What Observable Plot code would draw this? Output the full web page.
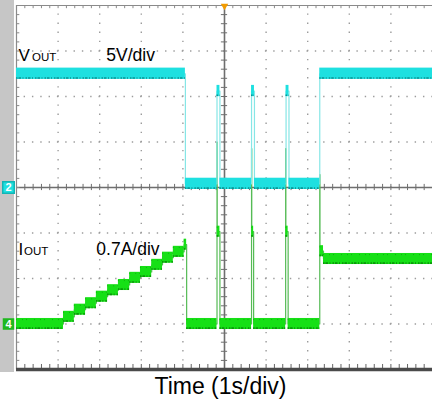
<!DOCTYPE html>
<html><head><meta charset="utf-8">
<script src="https://cdn.jsdelivr.net/npm/d3@7"></script>
<script src="https://cdn.jsdelivr.net/npm/@observablehq/plot@0.6"></script>
<style>
html,body{margin:0;padding:0;background:#fff;}
#chart svg{display:block;}
</style></head><body><div id="chart"></div>
<script>
// ---- data (time in s, 1 s/div) ----
// VOUT trace, held levels (step-after): volts, 5 V/div
const vTime = [0, 4.06, 4.82, 4.89, 5.65, 5.72, 6.48, 6.55, 7.29, 10];
const vVolt = [12.5, 0.4, 10.6, 0.4, 10.6, 0.4, 10.6, 0.4, 12.5, 12.5];
// IOUT trace, held levels (step-after): amps, 0.7 A/div
const iTime = [0, 1.13, 1.39, 1.66, 1.92, 2.19, 2.45, 2.72, 2.98, 3.25, 3.51, 3.77, 4.03, 4.09,
               4.82, 4.825, 4.89, 5.65, 5.655, 5.70, 6.47, 6.475, 6.53, 7.29, 7.295, 7.38, 10];
const iAmp  = [0, 0.11, 0.22, 0.32, 0.42, 0.52, 0.60, 0.71, 0.80, 0.91, 1.02, 1.11, 1.22, 0,
               2.8, 1.42, 0, 2.7, 1.42, 0, 2.7, 1.42, 0, 2.3, 1.12, 1.0, 1.0];
// noise envelope half-widths
const vNoise = 0.62;   // V
const iNoise = 0.085;  // A
// channel scaling
const vPerDiv = 5, aPerDiv = 0.7, iOffsetDiv = -3;
const vLabel = ["V", "OUT", "5V/div"];
const iLabel = ["I", "OUT", "0.7A/div"];
const xTitle = "Time (1s/div)";

// ---- derived ----
const FONT = "'Liberation Sans', Arial, Helvetica, sans-serif";
const vDiv = v => v / vPerDiv;
const iDiv = a => iOffsetDiv + a / aPerDiv;
const vRows = vTime.map((t, i) => ({t, y: vVolt[i]}));
const iRows = iTime.map((t, i) => ({t, y: iAmp[i]}));
const segs = (T, Y) => T.slice(0, -1).map((t, i) => ({t1: t, t2: T[i + 1], y: Y[i]}))
  .filter(s => s.t2 - s.t1 > 0.03);
const vSegs = segs(vTime, vVolt);
const iSegs = segs(iTime, iAmp);
const gridX = d3.range(1, 10).filter(d => d !== 5);
const gridY = d3.range(-3, 4).filter(d => d !== 0);
const fineX = d3.range(0, 51).map(k => k / 5);
const fineY = d3.range(-20, 21).map(k => k / 5);

const W = 432, H = 400, ML = 16, MR = 0, MT = 5, MB = 31;
const dotPX = (H - MT - MB) / 40, dotPY = (W - ML - MR) / 50;

const CYAN = "#1ee0e0", CYAN_D = "#0a9494", CYAN_L = "#86e6e6";
const GREEN = "#16e016", GREEN_D = "#0a960a", GREEN_L = "#55bb55";

const chart = Plot.plot({
  width: W, height: H,
  marginLeft: ML, marginRight: MR, marginTop: MT, marginBottom: MB,
  x: {domain: [0, 10], axis: null},
  y: {domain: [-4, 4], axis: null},
  style: {fontFamily: FONT, background: "white", overflow: "visible"},
  marks: [
    // dotted graticule
    Plot.ruleX(gridX, {y1: -4, y2: 4, stroke: "#9c9c9c", strokeWidth: 1.4,
      strokeDasharray: `1.4,${dotPX - 1.4}`, strokeDashoffset: 0.7}),
    Plot.ruleY(gridY, {x1: 0, x2: 10, stroke: "#9c9c9c", strokeWidth: 1.4,
      strokeDasharray: `1.4,${dotPY - 1.4}`, strokeDashoffset: 0.7}),
    // centre axes with minor ticks
    Plot.ruleX([5], {y1: -4, y2: 4, stroke: "#6e6e6e", strokeWidth: 1.6}),
    Plot.ruleY([0], {x1: 0, x2: 10, stroke: "#6e6e6e", strokeWidth: 1.6}),
    Plot.ruleY(fineY, {x1: 5 - 0.075, x2: 5 + 0.075, stroke: "#6e6e6e"}),
    Plot.ruleX(fineX, {y1: -0.068, y2: 0.068, stroke: "#6e6e6e"}),
    // border ticks
    Plot.ruleX(fineX, {y1: 4, y2: 3.93, stroke: "#8a8a8a"}),
    Plot.ruleX(fineX, {y1: -4, y2: -3.89, stroke: "#666"}),
    Plot.ruleY(fineY, {x1: 0, x2: 0.08, stroke: "#8a8a8a"}),
    // frame
    Plot.ruleY([4], {x1: 0, x2: 10, stroke: "#8a8a8a", strokeWidth: 1.2}),
    Plot.ruleX([0], {y1: -4, y2: 4, stroke: "#8a8a8a", strokeWidth: 1.2}),
    Plot.ruleY([-4], {x1: 0, x2: 10, stroke: "#4a4a4a", strokeWidth: 3.5}),

    // IOUT trace
    Plot.line(iRows, {x: "t", y: d => iDiv(d.y), curve: "step-after", stroke: GREEN_L, strokeWidth: 1.2}),
    Plot.rect(iSegs, {x1: "t1", x2: "t2", y1: d => iDiv(d.y - iNoise), y2: d => iDiv(d.y + iNoise), fill: GREEN}),
    Plot.ruleY(iSegs, {x1: "t1", x2: "t2", y: d => iDiv(d.y - iNoise * 0.75), stroke: GREEN_D,
      strokeWidth: 1.6, strokeDasharray: "1.5,1,2.5,1.5,1,2"}),
    Plot.ruleY(iSegs, {x1: "t1", x2: "t2", y: d => iDiv(d.y + iNoise * 0.8), stroke: GREEN_D,
      strokeWidth: 1, strokeOpacity: 0.6, strokeDasharray: "1,5,1,3,1,7"}),

    // VOUT trace
    Plot.line(vRows, {x: "t", y: d => vDiv(d.y), curve: "step-after", stroke: CYAN_L, strokeWidth: 1.2}),
    Plot.rect(vSegs, {x1: "t1", x2: "t2", y1: d => vDiv(d.y - vNoise), y2: d => vDiv(d.y + vNoise), fill: CYAN}),
    Plot.ruleY(vSegs, {x1: "t1", x2: "t2", y: d => vDiv(d.y - vNoise * 0.75), stroke: CYAN_D,
      strokeWidth: 1.6, strokeDasharray: "1.5,1,2.5,1.5,1,2"}),

    // channel markers
    Plot.dot([0], {frameAnchor: "left", y: d => d, dx: -8, symbol: "square", r: 6.5, fill: CYAN, stroke: "#12b5b5"}),
    Plot.text([0], {frameAnchor: "left", y: d => d, dx: -8, text: () => "2", textAnchor: "middle",
      fill: "white", fontWeight: "bold", fontSize: 11}),
    Plot.dot([iOffsetDiv], {frameAnchor: "left", y: d => d, dx: -8, symbol: "square", r: 6.5, fill: "#1fb81f"}),
    Plot.text([iOffsetDiv], {frameAnchor: "left", y: d => d, dx: -8, text: () => "4", textAnchor: "middle",
      fill: "white", fontWeight: "bold", fontSize: 11}),
    // trigger marker
    Plot.dot([5], {x: d => d, y: 4, symbol: "triangle", rotate: 180, r: 2.8, fill: "#f29b00", dy: 0.5}),

    // channel labels
    Plot.text([vLabel[0]], {x: 0.05, y: 2.77, text: d => d, textAnchor: "start", lineAnchor: "bottom", fontSize: 17, fill: "#000"}),
    Plot.text([vLabel[1]], {x: 0.05, y: 2.77, dx: 13.5, text: d => d, textAnchor: "start", lineAnchor: "bottom", fontSize: 11.5, fill: "#000"}),
    Plot.text([vLabel[2]], {x: 2.16, y: 2.77, text: d => d, textAnchor: "start", lineAnchor: "bottom", fontSize: 17.5, fill: "#000"}),
    Plot.text([iLabel[0]], {x: 0.05, y: -1.48, text: d => d, textAnchor: "start", lineAnchor: "bottom", fontSize: 17, fill: "#000"}),
    Plot.text([iLabel[1]], {x: 0.05, y: -1.48, dx: 5.5, text: d => d, textAnchor: "start", lineAnchor: "bottom", fontSize: 11.5, fill: "#000"}),
    Plot.text([iLabel[2]], {x: 1.92, y: -1.48, text: d => d, textAnchor: "start", lineAnchor: "bottom", fontSize: 17.5, fill: "#000"}),
    // axis title
    Plot.text([xTitle], {frameAnchor: "bottom", dy: 24, dx: -4, text: d => d, fontSize: 23, fill: "#000"})
  ]
});

// grey side bar of the scope screen (left margin), behind everything
d3.select(chart).insert("rect", ":first-child")
  .attr("x", 0).attr("y", 0).attr("width", ML - 2).attr("height", H - MB + 3)
  .attr("fill", "#c6c6c6");
d3.select(chart).insert("rect", ":first-child")
  .attr("x", 0).attr("y", 0).attr("width", W).attr("height", H).attr("fill", "white");

document.getElementById("chart").appendChild(chart);
</script>
</body></html>
